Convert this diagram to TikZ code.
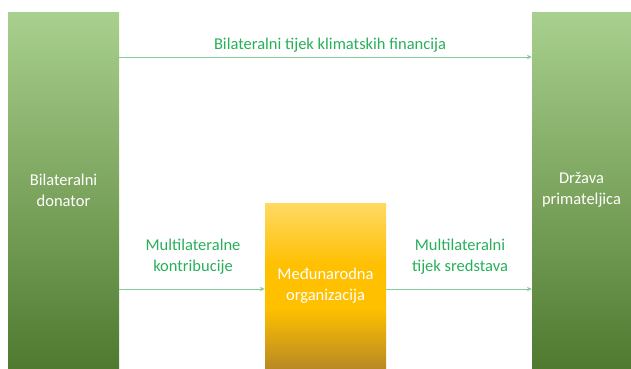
\documentclass[tikz,border=0pt]{standalone}
\usepackage{fontspec}
\setmainfont{Carlito}
\usetikzlibrary{arrows.meta}
\definecolor{flowgreen}{RGB}{40,175,90}
\definecolor{linegreen}{RGB}{130,205,150}
\definecolor{greentop}{RGB}{169,208,142}
\definecolor{greenmid}{RGB}{112,176,68}
\definecolor{greenbot}{RGB}{80,122,48}
\definecolor{goldtop}{RGB}{255,217,100}
\definecolor{goldmid}{RGB}{255,192,0}
\definecolor{goldbot}{RGB}{185,138,35}
\pgfdeclareverticalshading{goldfill}{100bp}{color(0bp)=(goldbot); color(25bp)=(goldbot); color(43bp)=(goldmid); color(56bp)=(goldmid); color(75bp)=(goldtop); color(100bp)=(goldtop)}
\tikzstyle{actor}=[rectangle,inner sep=0pt,text=white,align=center,font=\fontsize{16.5}{21}\selectfont,
                   top color=greentop,middle color=greenmid,bottom color=greenbot]
\tikzstyle{agency}=[rectangle,inner sep=0pt,text=white,align=center,font=\fontsize{16.5}{21}\selectfont,
                    shading=goldfill]
\tikzstyle{flow}=[->,>={Stealth[length=5pt,width=4.5pt]},draw=linegreen,line width=0.9pt]
\tikzstyle{flowlabel}=[text=flowgreen,align=center,font=\fontsize{16.5}{21}\selectfont]

\begin{document}
\begin{tikzpicture}[x=1pt,y=1pt]
                  \useasboundingbox (0,0) rectangle (631,368);

                  \node (donor) at (63.5,178) [actor,minimum width=111pt,minimum height=356pt] {Bilateralni\\donator};
                  \node (state) at (581.5,178) [actor,minimum width=99pt,minimum height=356pt] {Država\\primateljica};
                  \node (org) at (325.5,82.5) [agency,minimum width=121pt,minimum height=165pt] {Međunarodna\\organizacija};

                  \coordinate (t1) at (donor.east |- 0,311);
                  \coordinate (t2) at (state.west |- 0,311);
                  \coordinate (b1) at (donor.east |- 0,79);
                  \coordinate (b2) at (org.west |- 0,79);
                  \coordinate (b3) at (org.east |- 0,79);
                  \coordinate (b4) at (state.west |- 0,79);

                  \draw [flow] (t1) -- (t2);
                  \draw [flow] (b1) -- (b2);
                  \draw [flow] (b3) -- (b4);

                  \node (lbil) at (330,323) [flowlabel] {Bilateralni tijek klimatskih financija};
                  \node (lcon) at (193,111) [flowlabel] {Multilateralne\\kontribucije};
                  \node (lsre) at (460,111) [flowlabel] {Multilateralni\\tijek sredstava};
              \end{tikzpicture}
\end{document}
